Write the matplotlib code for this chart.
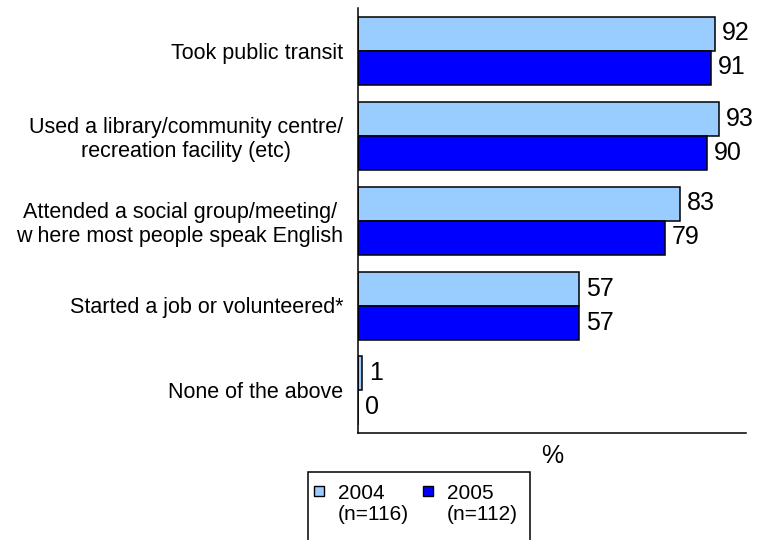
import matplotlib
matplotlib.use("Agg")
import matplotlib.pyplot as plt
from matplotlib.lines import Line2D
from matplotlib.patches import Rectangle

plt.rcParams['font.family'] = ['Liberation Sans', 'DejaVu Sans']

categories = [
    "Took public transit",
    "Used a library/community centre/\nrecreation facility (etc)",
    "Attended a social group/meeting/\nw here most people speak English",
    "Started a job or volunteered*",
    "None of the above",
]
values_2004 = [92, 93, 83, 57, 1]
values_2005 = [91, 90, 79, 57, 0]
series_labels = ["2004\n(n=116)", "2005\n(n=112)"]

LIGHT = "#99CCFF"
DARK = "#0000FF"

W, H = 767, 540
fig = plt.figure(figsize=(W / 100, H / 100), dpi=100)
ax = fig.add_axes([358 / W, 1 - 433 / H, 388 / W, 425 / H])

pos = list(range(len(categories)))
h = 0.4
b1 = ax.barh([p - h / 2 for p in pos], values_2004, height=h, color=LIGHT,
             edgecolor="black", linewidth=1.1)
b2 = ax.barh([p + h / 2 for p in pos], values_2005, height=h, color=DARK,
             edgecolor="black", linewidth=1.1)

ax.bar_label(b1, labels=[str(v) for v in values_2004], padding=5, fontsize=18)
ax.bar_label(b2, labels=[str(v) for v in values_2005], padding=5, fontsize=18)

ax.set_xlim(0, 100)
ax.set_ylim(len(categories) - 0.5, -0.5)
ax.set_yticks(pos)
ax.set_yticklabels(categories, fontsize=15.5, multialignment="center")
ax.tick_params(axis="y", length=0, pad=10.5)
ax.set_xticks([])
ax.spines["top"].set_visible(False)
ax.spines["right"].set_visible(False)
for s in ("left", "bottom"):
    ax.spines[s].set_linewidth(1.1)
ax.set_xlabel("%", fontsize=18, labelpad=8)

handles = [Line2D([], [], linestyle="none", marker="s", markersize=7,
                  markerfacecolor=c, markeredgecolor="black",
                  markeredgewidth=1.0) for c in (LIGHT, DARK)]
leg = fig.legend(handles, series_labels, loc="upper left",
                 bbox_to_anchor=(313 / W, 1 - 484 / H), ncol=2,
                 fontsize=15, frameon=False,
                 borderaxespad=0, borderpad=0, handlelength=0.6,
                 handleheight=0.7, handletextpad=0.6, columnspacing=0.6)
for t in leg.get_texts():
    t.set_linespacing(1.15)
# put the swatch level with the first line of each label
for col in leg._legend_handle_box.get_children():
    for row in col.get_children():
        row.align = "top"

# legend box runs off the bottom of the page
fig.patches.append(Rectangle((308 / W, -0.05), 222 / W, 0.05 + 68 / H,
                             transform=fig.transFigure, fill=False,
                             edgecolor="black", linewidth=1.1))

fig.savefig("out.png", dpi=100)
